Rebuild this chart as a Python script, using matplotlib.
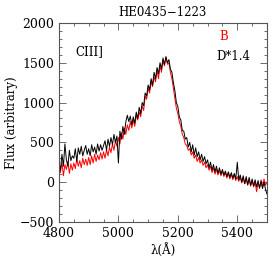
import numpy as np
import matplotlib
matplotlib.use("Agg")
from matplotlib import pyplot as plt
from matplotlib.ticker import MultipleLocator

# wavelength grid (Angstrom), 5 A steps
wave = np.arange(4800, 5501, 5)

# spectrum D (scaled *1.4), black
flux_d = [250, 150, 350, 200, 480, 280, 200, 400, 270, 330,
          300, 420, 260, 430, 350, 450, 330, 400, 460, 350,
          420, 330, 470, 380, 440, 350, 480, 390, 470, 400,
          460, 520, 400, 540, 450, 560, 470, 600, 500, 580,
          240, 640, 540, 700, 600, 760, 840, 760, 830, 720,
          820, 740, 880, 800, 940, 860, 1000, 960, 1120, 1080,
          1220, 1160, 1300, 1220, 1380, 1300, 1440, 1360, 1500, 1420,
          1560, 1480, 1570, 1500, 1540, 1420, 1380, 1250, 1150, 1000,
          950, 820, 780, 650, 640, 540, 560, 440, 500, 380,
          470, 340, 430, 320, 380, 280, 350, 260, 320, 230,
          280, 180, 250, 150, 220, 130, 200, 110, 180, 100,
          160, 90, 140, 70, 130, 60, 120, 50, 110, 40,
          250, 30, 90, 0, 80, -20, 70, -30, 60, -40,
          40, -50, 30, -60, 20, -70, 10, -80, 0, -90,
          -150]

# spectrum B, red
flux_b = [180, 120, 250, 80, 220, 160, 260, 110, 230, 150,
          240, 170, 290, 200, 270, 180, 300, 220, 290, 210,
          310, 220, 330, 240, 350, 260, 340, 280, 370, 290,
          380, 300, 410, 330, 440, 370, 480, 400, 520, 450,
          560, 480, 620, 540, 680, 600, 720, 650, 760, 680,
          780, 700, 840, 780, 880, 820, 960, 900, 1080, 1040,
          1180, 1120, 1260, 1200, 1320, 1260, 1400, 1300, 1460, 1380,
          1520, 1460, 1580, 1480, 1500, 1380, 1300, 1180, 1050, 930,
          860, 760, 700, 600, 560, 480, 460, 400, 420, 340,
          380, 300, 340, 260, 310, 240, 280, 210, 250, 180,
          220, 150, 200, 120, 180, 100, 160, 90, 150, 80,
          140, 70, 120, 50, 110, 40, 100, 30, 90, 20,
          70, 10, 60, -10, 50, -20, 40, -40, 30, -50,
          20, -60, 0, -120, -10, -80, 30, -60, 40, -40,
          0]

plt.rcParams['font.family'] = 'DejaVu Serif'

fig = plt.figure(figsize=(2.73, 2.73), dpi=100)
ax = fig.add_axes([0.216, 0.187, 0.762, 0.729])

ax.plot(wave, flux_b, color='red', lw=0.7)
ax.plot(wave, flux_d, color='black', lw=0.7)

ax.set_xlim(4800, 5500)
ax.set_ylim(-500, 2000)
ax.xaxis.set_major_locator(MultipleLocator(200))
ax.xaxis.set_minor_locator(MultipleLocator(50))
ax.yaxis.set_major_locator(MultipleLocator(500))
ax.yaxis.set_minor_locator(MultipleLocator(100))
ax.tick_params(which='both', direction='in', top=True, right=True,
               labelsize=9, color='#555555')
ax.tick_params(which='major', length=5, width=0.6)
ax.tick_params(which='minor', length=2.5, width=0.6)
for s in ax.spines.values():
    s.set_linewidth(0.8)
    s.set_color('#555555')

ax.set_title('HE0435\u22121223', fontsize=8.5, pad=5)
ax.set_xlabel('\u03bb(\u00c5)', fontsize=8.5, labelpad=2)
ax.set_ylabel('Flux (arbitrary)', fontsize=8.5, labelpad=1)

ax.text(4854, 1636, 'CIII]', fontsize=8.5, va='center')
ax.text(5340, 1824, 'B', fontsize=8.5, color='red', va='center')
ax.text(5445, 1575, 'D*1.4', fontsize=8.5, va='center', ha='right')

fig.savefig('out.png', dpi=100)
